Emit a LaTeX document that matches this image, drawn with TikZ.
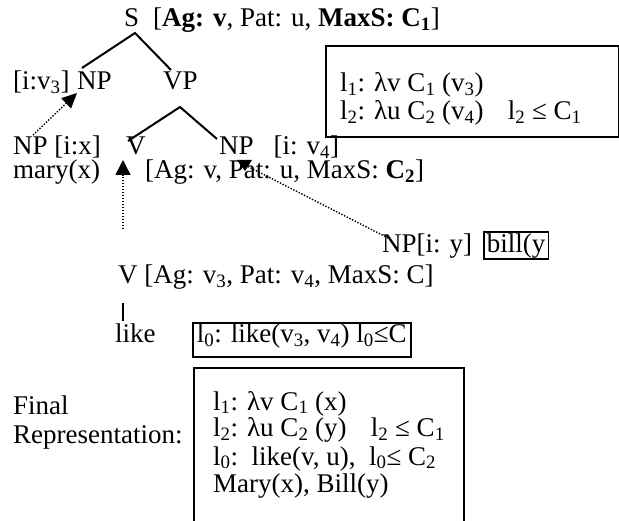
\documentclass[tikz,border=0pt]{standalone}
\usepackage{fontspec}
\setmainfont{Liberation Serif}
\usetikzlibrary{arrows.meta}
\newcommand\sbs[1]{\textsubscript{#1}}
\begin{document}
\begin{tikzpicture}[x=1pt,y=-1pt,
  txt/.style={anchor=base west, inner sep=0pt, font=\fontsize{27}{29}\selectfont},
  branch/.style={line width=2pt},
  link/.style={line width=1.4pt, dash pattern=on 1.4pt off 1.6pt},
  head/.style={-{Triangle[length=15pt,width=14pt]}},
  frame/.style={draw, line width=1.7pt, inner sep=0pt},
  boxed/.style={draw, line width=1.7pt, anchor=base west, inner ysep=0pt,
                font=\fontsize{27}{29}\selectfont},
]
\useasboundingbox (0,0) rectangle (619,521);

% --- tree: S -> NP VP ---
\node[txt] (s) at (124,27) {S};
\node[txt] (sfeat) at (153,27) {[\textbf{Ag: v}, Pat: u, \textbf{MaxS: C\sbs{1}}]};
\node[txt] (iv3) at (13,90) {[i:v\sbs{3}]};
\node[txt] (np1) at (77,90) {NP};
\node[txt] (vp) at (163,90) {VP};
\coordinate (sApex) at (135,33);
\coordinate (sL) at (82,68);
\coordinate (sR) at (171,70);
\draw[branch] (sL) -- (sApex) -- (sR);

% --- VP -> V NP ---
\node[txt] (npx) at (13,155) {NP [i:x]};
\node[txt] (v) at (126,155) {V};
\node[txt] (np2) at (219,155) {NP\hspace{0.74em}[i: v\sbs{4}]};
\node[txt] (mary) at (13,179) {mary(x)};
\node[txt] (vpfeat) at (145,179) {[Ag: v, Pat: u, MaxS: \textbf{C\sbs{2}}]};
\coordinate (vpApex) at (180,107);
\coordinate (vpL) at (128,141);
\coordinate (vpR) at (217,139);
\draw[branch] (vpL) -- (vpApex) -- (vpR);

% --- semantic box for the upper tree ---
\node[frame, minimum width=293, minimum height=91, anchor=north west] (topbox) at (325,45) {};
\node[txt] (tl1) at (340,92) {l\sbs{1}: λv C\sbs{1} (v\sbs{3})};
\node[txt] (tl2) at (340,120) {l\sbs{2}: λu C\sbs{2} (v\sbs{4})\hspace{0.9em}l\sbs{2} ≤ C\sbs{1}};

% --- object NP ---
\node[txt] (npy) at (382,253) {NP[i: y]};
\node[boxed, inner xsep=3pt, text height=21pt, text depth=6pt] (bill) at (483,253) {bill(y};

% --- lexical verb ---
\node[txt] (vlex) at (118,284) {V [Ag: v\sbs{3}, Pat: v\sbs{4}, MaxS: C]};
\node[txt] (like) at (115,343) {like};
\node[boxed, inner xsep=4pt, text height=20pt, text depth=14pt] (l0box) at (192,343)
  {l\sbs{0}: like(v\sbs{3}, v\sbs{4}) l\sbs{0}≤C};
\coordinate (barT) at (123,303);
\coordinate (barB) at (123,321);
\draw[line width=1.2pt] (barT) -- (barB);

% --- dotted links ---
\coordinate (a1s) at (33,135);
\coordinate (a1e) at (77,93);
\draw[link, head] (a1s) -- (a1e);
\coordinate (a2s) at (123,229);
\coordinate (a2e) at (123,160);
\draw[link, -{Triangle[length=15pt,width=15pt]}] (a2s) -- (a2e);
\coordinate (a3s) at (388,238);
\coordinate (a3e) at (247,166);
\draw[link] (a3s) -- (a3e);
\fill (237,160) -- (252,160) -- (245,171) -- cycle;

% --- final representation ---
\node[txt] (fin1) at (13,415) {Final};
\node[txt] (fin2) at (13,443) {Representation:};
\node[frame, minimum width=270, minimum height=200, anchor=north west] (finbox) at (193,367) {};
\node[txt] (f1) at (213,410) {l\sbs{1}: λv C\sbs{1} (x)};
\node[txt] (f2) at (213,437) {l\sbs{2}: λu C\sbs{2} (y)\hspace{0.9em}l\sbs{2} ≤ C\sbs{1}};
\node[txt] (f3) at (213,465) {l\sbs{0}:\ \ like(v, u),\ \ l\sbs{0}≤ C\sbs{2}};
\node[txt] (f4) at (213,492) {Mary(x), Bill(y)};
\end{tikzpicture}
\end{document}
